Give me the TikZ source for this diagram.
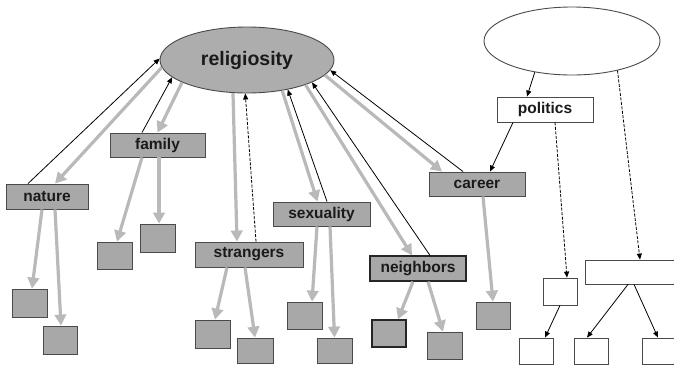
\documentclass[tikz,border=0pt]{standalone}
\usepackage{fontspec}
\setmainfont{Liberation Sans}
\usetikzlibrary{arrows.meta,shapes.geometric}
\definecolor{boxgray}{HTML}{A8A8A8}
\definecolor{elgray}{HTML}{ADADAD}
\definecolor{argray}{HTML}{B9B9B9}
\definecolor{edgegray}{HTML}{4A4A4A}
\definecolor{txt}{HTML}{1A1A1A}
\begin{document}
\begin{tikzpicture}[x=1pt,y=-1pt,
  gbox/.style={draw=edgegray,fill=boxgray,line width=0.9pt,inner sep=0pt,
    font=\bfseries\fontsize{15.5}{16}\selectfont,text=txt},
  wbox/.style={draw=edgegray,fill=white,line width=0.9pt,inner sep=0pt,
    font=\bfseries\fontsize{15.5}{16}\selectfont,text=txt},
  sq/.style={draw=edgegray,fill=boxgray,line width=0.8pt,inner sep=0pt},
  wsq/.style={draw=edgegray,fill=white,line width=0.8pt,inner sep=0pt},
  garrow/.style={draw=argray,line width=3.2pt,-{Triangle[length=11pt,width=11.5pt]}},
  barrow/.style={draw=black,line width=0.8pt,-{Triangle[length=6pt,width=5pt]}},
  darrow/.style={barrow,dashed,dash pattern=on 3pt off 1.5pt}]
\useasboundingbox (0,0) rectangle (674,365);
\clip (0,0) rectangle (674,365);
% ellipses
\node[ellipse,draw=edgegray,fill=elgray,line width=0.9pt,minimum width=174,minimum height=66,inner sep=0pt,
  font=\bfseries\fontsize{19.5}{20}\selectfont,text=txt] (rel) at (247,60) {religiosity};
\node[ellipse,draw=edgegray,fill=white,line width=0.9pt,minimum width=176,minimum height=68,inner sep=0pt] (unk) at (572,41) {};
% labelled boxes
\node[gbox,minimum width=82,minimum height=25] (nature) at (47,196.5) {nature};
\node[gbox,minimum width=95,minimum height=24] (family) at (157.5,145) {family};
\node[gbox,minimum width=108,minimum height=25] (strangers) at (249,254.5) {strangers};
\node[gbox,minimum width=97,minimum height=24] (sexuality) at (321.5,214) {sexuality};
\node[gbox,line width=1.2pt,draw=black!85,minimum width=96,minimum height=25] (neighbors) at (418,268.5) {neighbors};
\node[gbox,minimum width=96,minimum height=24] (career) at (477,184) {career};
\node[wbox,minimum width=96,minimum height=25] (politics) at (545,109.5) {politics};
% small gray boxes
\node[sq,minimum width=35,minimum height=28] (nat1) at (29.5,303) {};
\node[sq,minimum width=34,minimum height=28] (nat2) at (60,340) {};
\node[sq,minimum width=35,minimum height=27] (fam1) at (114.5,255.5) {};
\node[sq,minimum width=35,minimum height=28] (fam2) at (157.5,238) {};
\node[sq,minimum width=35,minimum height=28] (str1) at (212.5,334) {};
\node[sq,minimum width=36,minimum height=25] (str2) at (255,350.5) {};
\node[sq,minimum width=35,minimum height=27] (sex1) at (304.5,315.5) {};
\node[sq,minimum width=35,minimum height=25] (sex2) at (334.5,350.5) {};
\node[sq,line width=1.2pt,draw=black!85,minimum width=34,minimum height=27] (nb1) at (389,333.5) {};
\node[sq,minimum width=35,minimum height=27] (nb2) at (444.5,345.5) {};
\node[sq,minimum width=34,minimum height=27] (car1) at (493,315.5) {};
% white boxes
\node[wsq,minimum width=34,minimum height=27] (w1) at (560,291.5) {};
\node[wsq,minimum width=95,minimum height=24] (bw) at (632.5,272) {};
\node[wsq,minimum width=34,minimum height=26] (wb1) at (536,351) {};
\node[wsq,minimum width=34,minimum height=26] (wb2) at (591,351) {};
\node[wsq,minimum width=34,minimum height=26] (wb3) at (659,351) {};
% religiosity <-> factors
\draw[barrow] ([xshift=-19pt]nature.north) -- (rel.179);
\draw[garrow] (rel.185) -- ([xshift=8pt]nature.north);
\draw[barrow] ([xshift=-15.5pt]family.north) -- (rel.193);
\draw[garrow] (rel.199) -- (family.north);
\draw[garrow] (rel.247) -- ([xshift=-12pt]strangers.north);
\draw[darrow] ([xshift=7pt]strangers.north) -- (rel.267);
\draw[garrow] (rel.319) -- ([xshift=-4pt]sexuality.north);
\draw[barrow] ([xshift=5.5pt]sexuality.north) -- (rel.324.5);
\draw[garrow] (rel.337) -- ([xshift=-6pt]neighbors.north);
\draw[barrow] ([xshift=12pt]neighbors.north) -- (rel.341);
\draw[garrow] (rel.349) -- ([xshift=-35pt]career.north);
\draw[barrow] ([xshift=-14pt]career.north) -- (rel.353);
% factors -> items
\draw[garrow] ([xshift=-5pt]nature.south) -- ([xshift=2.5pt]nat1.north);
\draw[garrow] ([xshift=8pt]nature.south) -- ([xshift=1pt]nat2.north);
\draw[garrow] ([xshift=-15.5pt]family.south) -- ([xshift=2.5pt]fam1.north);
\draw[garrow] ([xshift=1.5pt]family.south) -- ([xshift=1.5pt]fam2.north);
\draw[garrow] ([xshift=-22pt]strangers.south) -- ([xshift=2.5pt]str1.north);
\draw[garrow] ([xshift=-4pt]strangers.south) -- (str2.north);
\draw[garrow] ([xshift=-4.5pt]sexuality.south) -- ([xshift=7.5pt]sex1.north);
\draw[garrow] ([xshift=8.5pt]sexuality.south) -- (sex2.north);
\draw[garrow] ([xshift=-5pt]neighbors.south) -- ([xshift=9pt]nb1.north);
\draw[garrow] ([xshift=10pt]neighbors.south) -- ([xshift=-1.5pt]nb2.north);
\draw[garrow] ([xshift=6pt]career.south) -- (car1.north);
% right side
\draw[barrow] (unk.220) -- ([xshift=-18pt]politics.north);
\draw[barrow] ([xshift=-32pt]politics.south) -- ([xshift=13pt]career.north);
\draw[darrow] ([xshift=10pt]politics.south) -- ([xshift=7pt]w1.north);
\draw[darrow] (unk.327) -- ([xshift=7.5pt]bw.north);
\draw[barrow] (w1.south) -- ([xshift=9pt]wb1.north);
\draw[barrow] ([xshift=-4.5pt]bw.south) -- ([xshift=-4pt]wb2.north);
\draw[barrow] ([xshift=1.5pt]bw.south) -- ([xshift=-1pt]wb3.north);
\end{tikzpicture}
\end{document}
